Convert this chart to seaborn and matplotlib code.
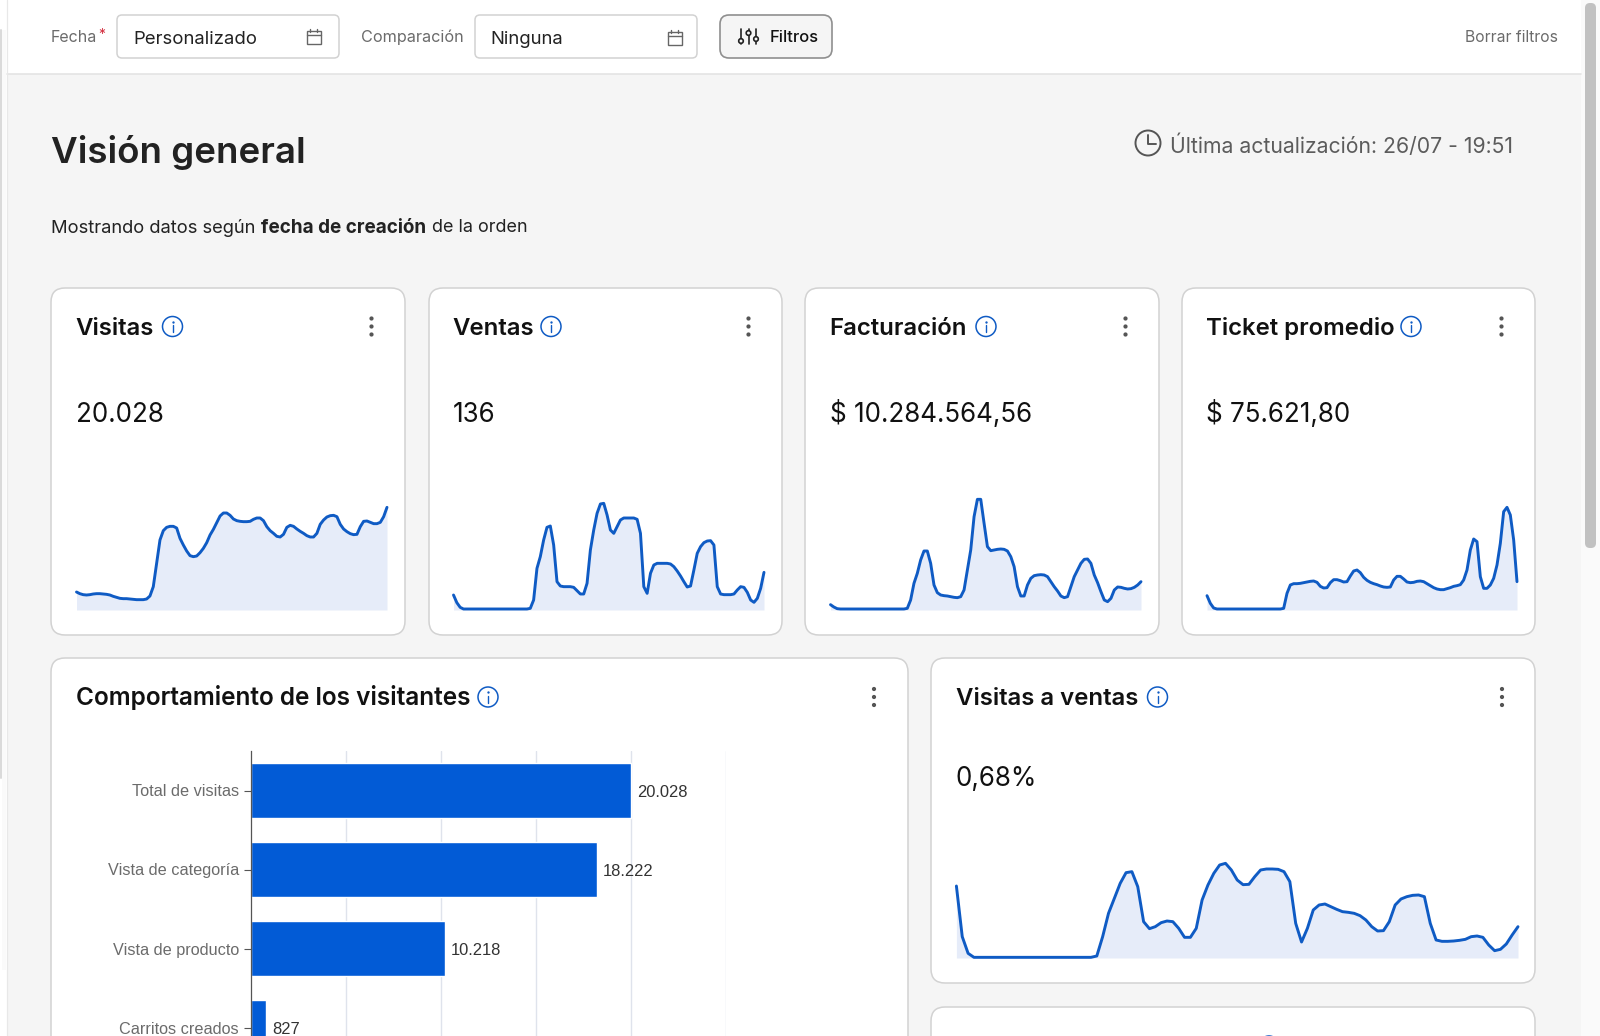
import matplotlib
matplotlib.use("Agg")
import matplotlib.pyplot as plt
from matplotlib.patches import Circle, FancyBboxPatch, Rectangle
import numpy as np
import seaborn as sns

# sparkline values, one reading per step
visitas = [54, 49, 46, 45, 46, 48, 49, 49, 48, 47, 45, 41, 38, 35, 34, 34, 33, 32, 31, 31,
           31, 33, 42, 70, 140, 210, 238, 248, 251, 251, 246, 215, 195, 177, 163, 160, 162, 172, 185, 202,
           225, 242, 262, 282, 291, 291, 284, 273, 268, 266, 265, 265, 266, 272, 276, 276, 268, 250, 238, 230,
           221, 219, 227, 248, 254, 251, 243, 236, 230, 223, 219, 219, 230, 257, 270, 279, 283, 284, 280, 257,
           243, 235, 229, 226, 227, 250, 266, 267, 263, 259, 259, 263, 280, 308]
ventas = [45, 22, 8, 3, 3, 3, 3, 3, 3, 3, 3, 3, 3, 3, 3, 3, 3, 3, 3, 3,
          3, 3, 3, 5, 30, 125, 160, 210, 248, 252, 195, 85, 72, 70, 70, 70, 68, 58, 48, 48,
          80, 180, 240, 290, 318, 320, 285, 240, 230, 250, 270, 276, 276, 276, 276, 272, 230, 70, 50, 110,
          135, 140, 140, 140, 140, 138, 130, 117, 102, 85, 69, 72, 120, 170, 190, 202, 207, 208, 195, 70,
          48, 46, 46, 46, 48, 60, 70, 68, 53, 30, 23, 35, 65, 113]
facturacion = [16, 9, 4, 3, 3, 3, 3, 3, 3, 3, 3, 3, 3, 3, 3, 3, 3, 3, 3, 3,
               3, 3, 3, 5, 30, 80, 110, 150, 177, 177, 140, 75, 52, 45, 43, 42, 40, 38, 37, 40,
               60, 120, 180, 280, 332, 332, 260, 190, 178, 180, 182, 183, 182, 177, 160, 130, 70, 42, 42, 75,
               95, 103, 105, 106, 105, 100, 85, 70, 57, 42, 37, 40, 70, 100, 120, 140, 152, 153, 140, 105,
               82, 55, 30, 25, 35, 60, 69, 68, 65, 63, 64, 68, 75, 85]
ticket = [43, 20, 6, 3, 3, 3, 3, 3, 3, 3, 3, 3, 3, 3, 3, 3, 3, 3, 3, 3,
          3, 3, 3, 5, 50, 75, 79, 79, 80, 82, 84, 86, 87, 83, 71, 66, 67, 82, 91, 91,
          88, 84, 85, 102, 117, 120, 112, 98, 89, 83, 79, 76, 72, 69, 68, 69, 90, 101, 101, 93,
          84, 82, 83, 86, 87, 85, 79, 73, 67, 63, 61, 61, 64, 67, 71, 73, 76, 90, 120, 180,
          213, 205, 100, 65, 65, 75, 95, 135, 200, 295, 308, 285, 210, 85]
visitas_ventas = [216, 64, 14, 2, 2, 2, 2, 2, 2, 2, 2, 2, 2, 2, 2, 2, 2, 2, 2, 2, 2, 2, 2, 2,
                  6, 64, 134, 179, 224, 256, 259, 214, 109, 88, 94, 106, 111, 109, 89, 62, 62, 89,
                  174, 219, 254, 279, 284, 264, 234, 220, 221, 244, 264, 267, 267, 266, 259, 229, 104, 48,
                  89, 144, 159, 162, 154, 146, 139, 137, 134, 127, 114, 94, 81, 82, 109, 159, 177, 184,
                  188, 189, 184, 104, 54, 50, 50, 51, 53, 56, 64, 66, 62, 39, 22, 26, 42, 69, 94]

# funnel bars
pasos = ["Total de visitas", "Vista de categoría", "Vista de producto", "Carritos creados"]
cantidades = [20028, 18222, 10218, 827]

titulos = ["Visitas", "Ventas", "Facturación", "Ticket promedio"]
totales = ["20.028", "136", "$ 10.284.564,56", "$ 75.621,80"]

AZUL = "#0f5bc4"
RELLENO = "#e6ecf9"
W, H = 1600, 1036

sns.set_theme(style="white")
plt.rcParams["font.family"] = ["Inter", "DejaVu Sans"]

fig = plt.figure(figsize=(16, 10.36), dpi=100, facecolor="#f5f5f5")
bg = fig.add_axes([0, 0, 1, 1])
bg.set_xlim(0, W)
bg.set_ylim(H, 0)
bg.axis("off")


def px(size):
    return size * 0.72


def caja(x0, y0, x1, y1, r=14, fc="white", ec="#d2d2d2", lw=1.1, z=1):
    bg.add_patch(FancyBboxPatch((x0 + r, y0 + r), x1 - x0 - 2 * r, y1 - y0 - 2 * r,
                                boxstyle=f"round,pad={r},rounding_size={r}", fc=fc, ec=ec, lw=lw, zorder=z))


# y is the middle of the capitals, so every line sits the same way
def texto(x, y, s, size, color="#111111", weight="normal", ha="left", **kw):
    bg.text(x, y + 0.36 * size, s, fontsize=px(size), color=color, fontweight=weight, ha=ha, va="baseline", zorder=5, **kw)


def info(x, y):
    bg.add_patch(Circle((x, y), 10, fc="white", ec=AZUL, lw=1.1, zorder=5))
    bg.plot([x, x], [y - 1.5, y + 5.5], color=AZUL, lw=1, zorder=6)
    bg.plot([x], [y - 5], "o", ms=1.7, mew=0, color=AZUL, zorder=6)


def kebab(x, y):
    for d in (-8, 0, 8):
        bg.add_patch(Circle((x, y + d), 2.1, fc="#555555", ec="none", zorder=5))


def calendario(x, y):
    bg.add_patch(Rectangle((x - 7, y - 6), 14, 13, fc="none", ec="#666666", lw=1, zorder=5))
    bg.plot([x - 7, x + 7], [y - 2, y - 2], color="#666666", lw=1, zorder=5)
    bg.plot([x - 3.5, x - 3.5], [y - 8, y - 5], color="#666666", lw=1, zorder=5)
    bg.plot([x + 3.5, x + 3.5], [y - 8, y - 5], color="#666666", lw=1, zorder=5)


def spark(x0, x1, base, valores):
    ax = fig.add_axes([x0 / W, 1 - base / H, (x1 - x0) / W, 160 / H])
    dias = np.arange(len(valores))
    ax.fill_between(dias, valores, 0, color=RELLENO, lw=0)
    sns.lineplot(x=dias, y=valores, ax=ax, color=AZUL, linewidth=2.1, errorbar=None, clip_on=False,
                 solid_joinstyle="round")
    ax.set_xlim(0, len(valores) - 1)
    ax.set_ylim(0, 480)
    ax.axis("off")


# top filter bar and page frame
bg.add_patch(Rectangle((7, 0), 1574, 74, fc="white", ec="none", zorder=1))
bg.plot([7, 1581], [74, 74], color="#e4e4e4", lw=1.2, zorder=2)
bg.add_patch(Rectangle((0, 0), 7, H, fc="white", ec="none", zorder=1))
bg.add_patch(Rectangle((1.7, 30), 4, 940, fc="#fafafa", ec="none", zorder=1))
bg.plot([0.8, 0.8], [30, 778], color="#d9d9d9", lw=1.4, zorder=2)
bg.plot([6.5, 6.5], [0, H], color="#e8e8e8", lw=0.9, zorder=2)
bg.add_patch(Rectangle((1581, 0), 19, H, fc="#fafafa", ec="none", zorder=1))
caja(1585, 3, 1596, 548, r=5, fc="#c1c1c1", ec="none", lw=0)

texto(51, 36, "Fecha", 16, "#6b6b6b")
texto(98, 34, "*", 14, "#d32f3f")
caja(117, 15, 339, 58, r=5)
texto(133.5, 37, "Personalizado", 18.5, "#222222")
calendario(313.5, 37)
texto(361, 36, "Comparación", 16.2, "#6b6b6b")
caja(475, 15, 697, 58, r=5)
texto(490.5, 37, "Ninguna", 18.5, "#222222")
calendario(674.5, 38)
caja(720, 15, 832, 58, r=9, fc="#f5f5f5", ec="#8f8f8f", lw=1.2)
for fx, fy in ((741, 41), (748.5, 33), (756, 39)):
    bg.plot([fx, fx], [29, 44], color="#222222", lw=1.2, zorder=5)
    bg.add_patch(Circle((fx, fy), 2.3, fc="#f5f5f5", ec="#222222", lw=1.2, zorder=6))
texto(770, 36, "Filtros", 16.5, "#111111", weight="medium")
texto(1558, 36, "Borrar filtros", 15.7, "#6b6b6b", ha="right")

# page header
texto(51, 150, "Visión general", 36.7, "#222222", weight="semibold")
bg.add_patch(Circle((1148, 143), 12.5, fc="none", ec="#555555", lw=1.4, zorder=5))
bg.plot([1148, 1148, 1156], [135, 144, 144], color="#555555", lw=1.4, zorder=5)
texto(1170.5, 145.5, "Última actualización: 26/07 - 19:51", 21.2, "#5c5c5c")
texto(51, 226, "Mostrando datos según", 18.4, "#222222")
texto(261, 226, "fecha de creación", 18.9, "#222222", weight="bold")
texto(432, 226, "de la orden", 18, "#222222")

# KPI cards
cards_x = [(51, 405), (429, 782), (805, 1159), (1182, 1535)]
spark_x = [(76.5, 387), (453.5, 764), (830.5, 1141), (1207, 1517)]
info_x = [172.5, 551, 986, 1411]
series = [visitas, ventas, facturacion, ticket]
for i in range(4):
    caja(cards_x[i][0], 288, cards_x[i][1], 635)
    texto(spark_x[i][0] - 1, 326, titulos[i], 24, weight="semibold")
    info(info_x[i], 326.5)
    kebab(cards_x[i][1] - 33.5, 326.5)
    texto(spark_x[i][0] - 0.5, 412.5, totales[i], 26)
    spark(spark_x[i][0], spark_x[i][1], 610, series[i])

# funnel card
caja(51, 658, 908, 1060)
texto(76.5, 696, "Comportamiento de los visitantes", 24.4, weight="semibold")
info(488, 697)
kebab(874, 697)

# conversion card
caja(931, 658, 1535, 983)
texto(955.5, 696, "Visitas a ventas", 24, weight="semibold")
info(1157.5, 697)
kebab(1502, 697)
texto(955.5, 777, "0,68%", 26)
spark(956.4, 1518, 958, visitas_ventas)

# next card, cut by the window
caja(931, 1007, 1535, 1100)
info(1269, 1046)

ax = fig.add_axes([250.5 / W, 0, 475 / W, (H - 751) / H])
ax.patch.set_alpha(0)
sns.barplot(x=cantidades, y=pasos, orient="h", color="#025bd6", width=0.69, saturation=1, ax=ax)
ax.set_xlim(0, 25000)
ax.set_ylim((H - 751) / 79 - 0.5, -0.5)
ax.set_xticks(range(5000, 25001, 5000))
ax.grid(axis="x", color="#dfe3ec", lw=1)
ax.set_axisbelow(True)
ax.tick_params(axis="x", bottom=False, labelbottom=False)
ax.tick_params(axis="y", left=True, length=5, width=0.8, color="#555555", pad=3.3, labelsize=px(16.2), labelcolor="#6b6b6b")
for lab in ax.get_yticklabels():
    lab.set_fontfamily("Liberation Sans")
for side in ("top", "right", "bottom"):
    ax.spines[side].set_visible(False)
ax.spines["left"].set_color("#555555")
ax.spines["left"].set_linewidth(0.9)
etiquetas = [f"{c:,}".replace(",", ".") for c in cantidades]
marcas = ax.bar_label(ax.containers[0], labels=etiquetas, padding=4.5, fontsize=px(16.5), color="#333333", family="Liberation Sans")
for m in marcas:
    m.xyann = (m.xyann[0], m.xyann[1] - 1.2)
ax.set_xlabel("")
ax.set_ylabel("")

fig.savefig("out.png", dpi=100, facecolor=fig.get_facecolor())
